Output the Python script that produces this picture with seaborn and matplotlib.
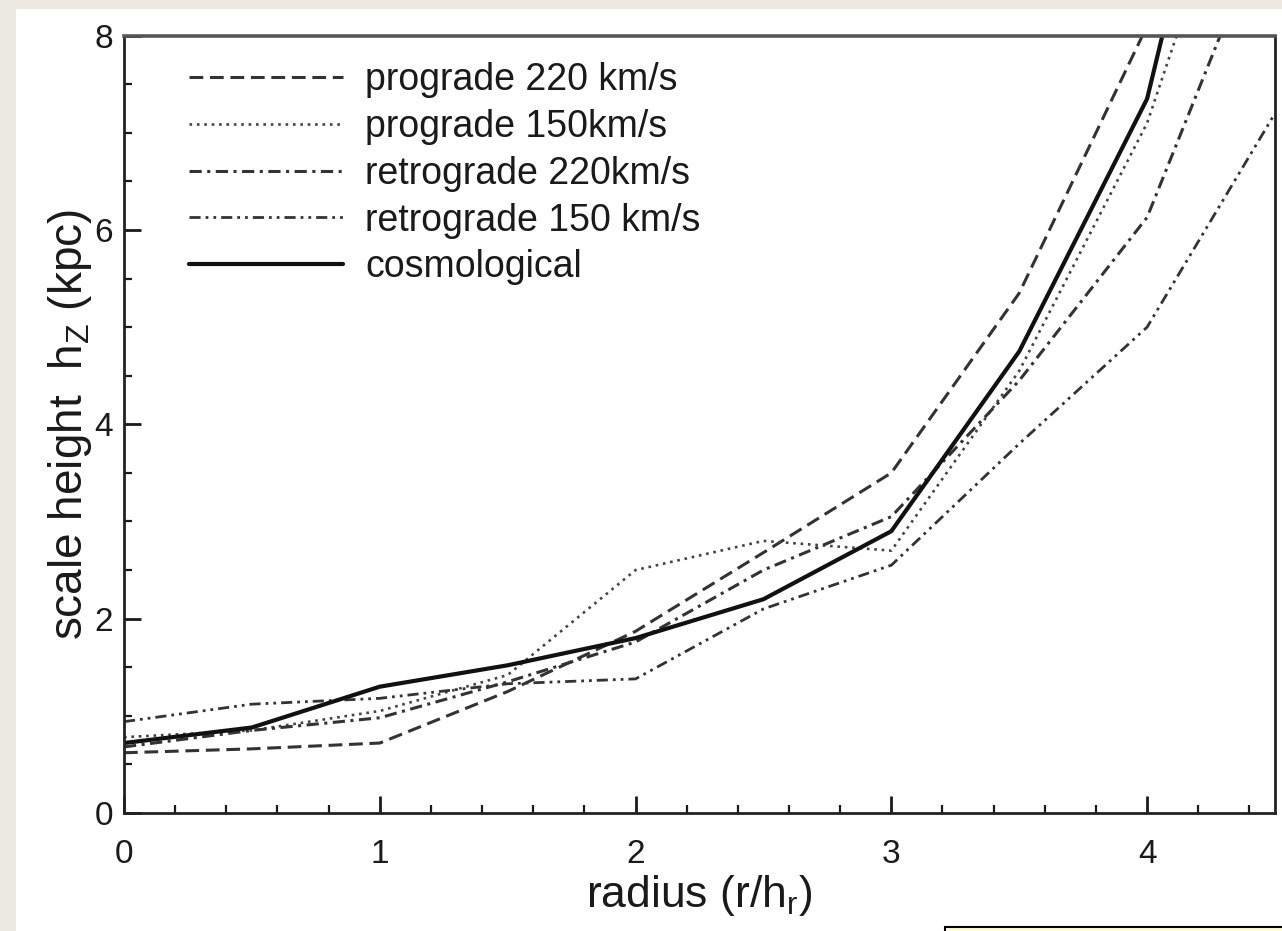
import numpy as np
import pandas as pd
import matplotlib
matplotlib.use("Agg")
import matplotlib.pyplot as plt
import seaborn as sns
from matplotlib.patches import Rectangle
from matplotlib.ticker import MultipleLocator

# ---- data ----
radius = [0.0, 0.5, 1.0, 1.5, 2.0, 2.5, 3.0, 3.5, 4.0, 4.5]
prograde_220 = [0.62, 0.66, 0.72, 1.25, 1.87, 2.68, 3.50, 5.35, 8.10, 11.0]
prograde_150 = [0.78, 0.85, 1.05, 1.42, 2.50, 2.80, 2.70, 4.55, 7.10, 11.0]
retrograde_220 = [0.68, 0.85, 0.98, 1.35, 1.76, 2.50, 3.05, 4.45, 6.13, 9.40]
retrograde_150 = [0.94, 1.12, 1.18, 1.33, 1.38, 2.10, 2.55, 3.80, 5.00, 7.20]
cosmological = [0.72, 0.88, 1.30, 1.52, 1.80, 2.20, 2.90, 4.75, 7.35, 12.8]

labels = ["prograde 220 km/s", "prograde 150km/s", "retrograde 220km/s",
          "retrograde 150 km/s", "cosmological"]
series = [prograde_220, prograde_150, retrograde_220, retrograde_150, cosmological]

styles = [
    dict(color="#333333", lw=2.2, dashes=(4.5, 2.2)),
    dict(color="#444444", lw=1.9, dashes=(1, 1.8)),
    dict(color="#333333", lw=2.2, dashes=(4, 1.8, 1, 1.8)),
    dict(color="#333333", lw=2.0, dashes=(4, 1.8, 1, 1.8, 1, 1.8)),
    dict(color="#111111", lw=3.0, dashes=None),
]

sns.set_style("white")
plt.rcParams["font.family"] = ["Liberation Sans", "DejaVu Sans"]
plt.rcParams["mathtext.fontset"] = "custom"
plt.rcParams["mathtext.rm"] = "Liberation Sans"
plt.rcParams["mathtext.it"] = "Liberation Sans"

TXT = "#1a1a1a"

fig = plt.figure(figsize=(12.82, 9.31), dpi=100, facecolor="white")
ax = fig.add_axes([124 / 1282, 1 - 813 / 931, (1275 - 124) / 1282, (813 - 35.6) / 931])
ax.set_facecolor("white")

for lab, vals, st in zip(labels, series, styles):
    df = pd.DataFrame({"r": radius, "h": vals})
    sns.lineplot(data=df, x="r", y="h", ax=ax, label=lab, color=st["color"],
                 linewidth=st["lw"], estimator=None, sort=False)
    line = ax.get_lines()[-1]
    if st["dashes"] is not None:
        line.set_dashes(st["dashes"])

ax.set_xlim(0, 4.5)
ax.set_ylim(0, 8)
ax.xaxis.set_major_locator(MultipleLocator(1))
ax.xaxis.set_minor_locator(MultipleLocator(0.2))
ax.yaxis.set_major_locator(MultipleLocator(2))
ax.yaxis.set_minor_locator(MultipleLocator(0.5))
ax.tick_params(axis="both", which="major", direction="in", length=12, width=2,
               labelsize=24, colors=TXT, top=False, right=False,
               bottom=True, left=True)
ax.tick_params(axis="x", which="major", pad=19)
ax.tick_params(axis="y", which="major", pad=8)
ax.tick_params(axis="both", which="minor", direction="in", length=6, width=1.6,
               colors=TXT, top=False, right=False, bottom=True, left=True)
for s in ax.spines.values():
    s.set_linewidth(2.0)
    s.set_color("#222222")
ax.spines["top"].set_color("#555555")
ax.spines["top"].set_linewidth(2.6)

ax.set_xlabel("radius (r/h$_\\mathregular{r}$)", fontsize=32, color=TXT, labelpad=2)
ax.set_ylabel("scale height  h$_\\mathregular{Z}$ (kpc)", fontsize=33, color=TXT, labelpad=0)

leg = ax.legend(loc="upper left", frameon=False, fontsize=27, handlelength=4.1,
                handletextpad=0.6, labelspacing=0.29, borderaxespad=0.2,
                bbox_to_anchor=(0.037, 0.995))
for t in leg.get_texts():
    t.set_color(TXT)

# page decorations (beige border strips and yellow note box)
beige = "#ECE9E1"
fig.patches.append(Rectangle((0, 0), 16 / 1282, 1, transform=fig.transFigure,
                             facecolor=beige, edgecolor="none", zorder=-1))
fig.patches.append(Rectangle((0, 1 - 9 / 931), 1, 9 / 931, transform=fig.transFigure,
                             facecolor=beige, edgecolor="none", zorder=-1))
fig.patches.append(Rectangle((945 / 1282, -0.01), 0.3, 0.01 + 4 / 931,
                             transform=fig.transFigure, facecolor="#FFFFC6",
                             edgecolor="black", linewidth=1.5, zorder=5))

fig.savefig("out.png", dpi=100, facecolor=fig.get_facecolor())
